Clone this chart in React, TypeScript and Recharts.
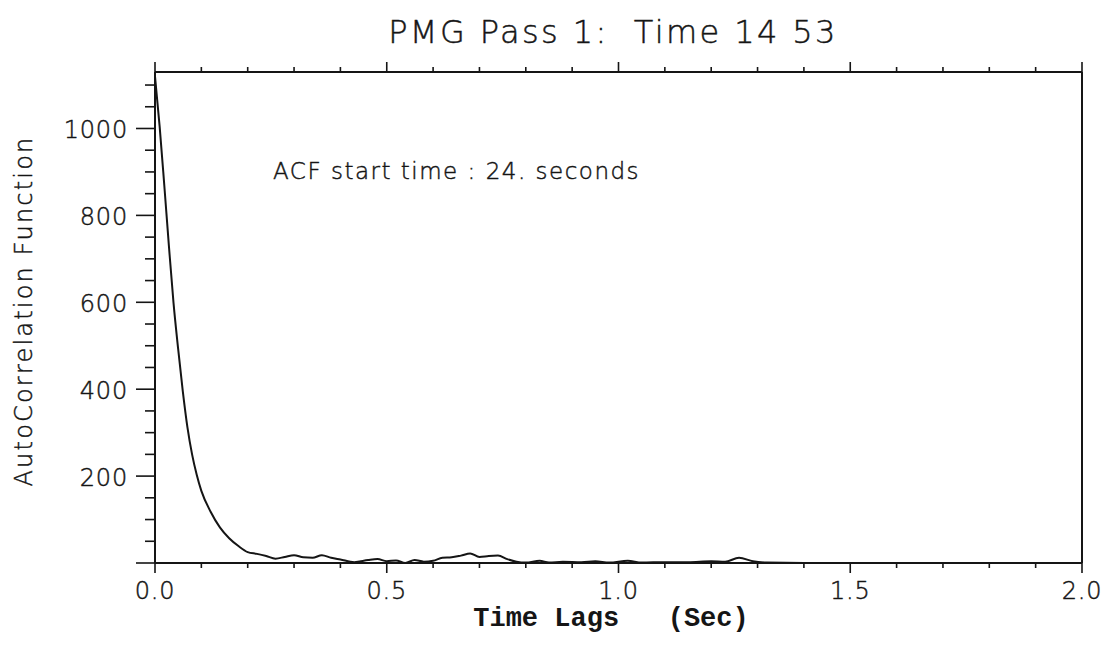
import React from 'react';
import { LineChart, Line, XAxis, YAxis } from 'recharts';

// lag (sec) and ACF value
const LAGS = [
  0, 0.01, 0.02, 0.03, 0.04, 0.05, 0.06, 0.07, 0.08, 0.09,
  0.10, 0.12, 0.14, 0.16, 0.18, 0.20, 0.22, 0.24, 0.26, 0.28,
  0.30, 0.32, 0.34, 0.36, 0.38, 0.40, 0.43, 0.46, 0.48, 0.50,
  0.52, 0.54, 0.56, 0.58, 0.60, 0.62, 0.64, 0.66, 0.68, 0.70,
  0.72, 0.74, 0.76, 0.78, 0.80, 0.83, 0.85, 0.88, 0.92, 0.95,
  0.98, 1.02, 1.05, 1.10, 1.15, 1.20, 1.23, 1.26, 1.29, 1.32,
  1.40, 1.50, 1.60, 1.70, 1.80, 1.90, 2.00,
];
const ACF = [
  1120, 1005, 870, 730, 598, 492, 395, 312, 250, 203,
  166, 118, 82, 57, 39, 25, 21, 16, 10, 14,
  18, 13, 12, 18, 12, 8, 2, 7, 9, 4,
  6, 0, 7, 3, 5, 12, 13, 17, 22, 14,
  16, 17, 9, 3, 1, 5, 1, 3, 2, 4,
  1, 5, 1, 2, 2, 4, 3, 12, 4, 1,
  0, 0, 0, 0, 0, 0, 0,
];

const X_TICKS = [0, 0.1, 0.2, 0.3, 0.4, 0.5, 0.6, 0.7, 0.8, 0.9, 1.0, 1.1, 1.2, 1.3, 1.4, 1.5, 1.6, 1.7, 1.8, 1.9, 2.0];
const X_LABELS = [0, 0.5, 1.0, 1.5, 2.0];
const Y_TICKS = [0, 50, 100, 150, 200, 250, 300, 350, 400, 450, 500, 550, 600, 650, 700, 750, 800, 850, 900, 950, 1000, 1050, 1100];
const Y_LABELS = [200, 400, 600, 800, 1000];

const data = LAGS.map((lag, i) => ({ lag, acf: ACF[i] }));

const INK = '#151515';
// thin plotter-style lettering: extra light face with a hairline stroke
const labelFont = { fontFamily: '"DejaVu Sans", sans-serif', fontWeight: 200, stroke: INK, strokeWidth: 0.45 };

const isLabel = (list: number[], v: number) => list.some(l => Math.abs(l - v) < 1e-6);

// ticks drawn by hand so major/minor lengths differ like the original IDL plot
const XTick = ({ x, y, payload, side }: any) => {
  const v = payload.value;
  const major = isLabel(X_LABELS, v);
  const dir = side === 'bottom' ? 1 : -1;
  const len = major ? 10 : 5;
  return (
    <g>
      <line x1={x} y1={y} x2={x} y2={y + dir * len} stroke={INK} strokeWidth={1.6} />
      {side === 'bottom' && major && (
        <text x={x} y={y + 36} textAnchor="middle" fontSize={24} letterSpacing={0.8} fill={INK} style={labelFont}>
          {v.toFixed(1)}
        </text>
      )}
    </g>
  );
};

const YTick = ({ x, y, payload, side }: any) => {
  const v = payload.value;
  const major = v % 200 === 0;
  const dir = side === 'left' ? -1 : 1;
  const len = major ? 19 : 10;
  return (
    <g>
      <line x1={x} y1={y} x2={x + dir * len} y2={y} stroke={INK} strokeWidth={1.6} />
      {side === 'left' && isLabel(Y_LABELS, v) && (
        <text x={x - 27} y={y + 10} textAnchor="end" fontSize={24} letterSpacing={0.8} fill={INK} style={labelFont}>
          {v}
        </text>
      )}
    </g>
  );
};

const W = 1095;
const H = 639;

export default function App() {
  return (
    <div style={{ position: 'relative', width: W, height: H, background: '#fff' }}>
      <LineChart width={W} height={H} data={data} margin={{ top: 0, right: 0, bottom: 0, left: 0 }}>
        <XAxis
          xAxisId="bottom"
          dataKey="lag"
          type="number"
          domain={[0, 2]}
          ticks={X_TICKS}
          interval={0}
          height={84}
          tickSize={0}
          tickMargin={0}
          tickLine={false}
          axisLine={{ stroke: INK, strokeWidth: 2 }}
          tick={(p: any) => <XTick {...p} side="bottom" />}
        />
        <XAxis
          xAxisId="top"
          orientation="top"
          dataKey="lag"
          type="number"
          domain={[0, 2]}
          ticks={X_TICKS}
          interval={0}
          height={64}
          tickSize={0}
          tickMargin={0}
          tickLine={false}
          axisLine={{ stroke: INK, strokeWidth: 2 }}
          tick={(p: any) => <XTick {...p} side="top" />}
        />
        <YAxis
          yAxisId="left"
          type="number"
          domain={[0, 1130]}
          ticks={Y_TICKS}
          interval={0}
          width={147}
          tickSize={0}
          tickMargin={0}
          tickLine={false}
          axisLine={{ stroke: INK, strokeWidth: 2 }}
          tick={(p: any) => <YTick {...p} side="left" />}
        />
        <YAxis
          yAxisId="right"
          orientation="right"
          type="number"
          domain={[0, 1130]}
          ticks={Y_TICKS}
          interval={0}
          width={21}
          tickSize={0}
          tickMargin={0}
          tickLine={false}
          axisLine={{ stroke: INK, strokeWidth: 2 }}
          tick={(p: any) => <YTick {...p} side="right" />}
        />
        <Line
          xAxisId="bottom"
          yAxisId="left"
          type="monotone"
          dataKey="acf"
          stroke={INK}
          strokeWidth={2}
          dot={false}
          isAnimationActive={false}
        />
      </LineChart>

      {/* title, annotation and axis titles */}
      <svg width={W} height={H} style={{ position: 'absolute', left: 0, top: 0, pointerEvents: 'none' }}>
        <text x={605} y={35} textAnchor="middle" fontSize={32} letterSpacing={2.4} fill={INK} style={{ ...labelFont, whiteSpace: 'pre' }}>
          {'PMG Pass 1:  Time 14 53'}
        </text>
        <text x={265} y={171} fontSize={23} letterSpacing={1.5} fill={INK} style={labelFont}>
          ACF start time : 24. seconds
        </text>
        <text
          x={24}
          y={303}
          transform="rotate(-90 24 303)"
          textAnchor="middle"
          fontSize={24}
          letterSpacing={2.2}
          fill={INK}
          style={labelFont}
        >
          AutoCorrelation Function
        </text>
        <text
          x={603}
          y={618}
          textAnchor="middle"
          fontSize={27}
          fontWeight="bold"
          fill={INK}
          style={{ fontFamily: '"Liberation Mono", monospace', whiteSpace: 'pre' }}
        >
          {'Time Lags   (Sec)'}
        </text>
      </svg>
    </div>
  );
}
